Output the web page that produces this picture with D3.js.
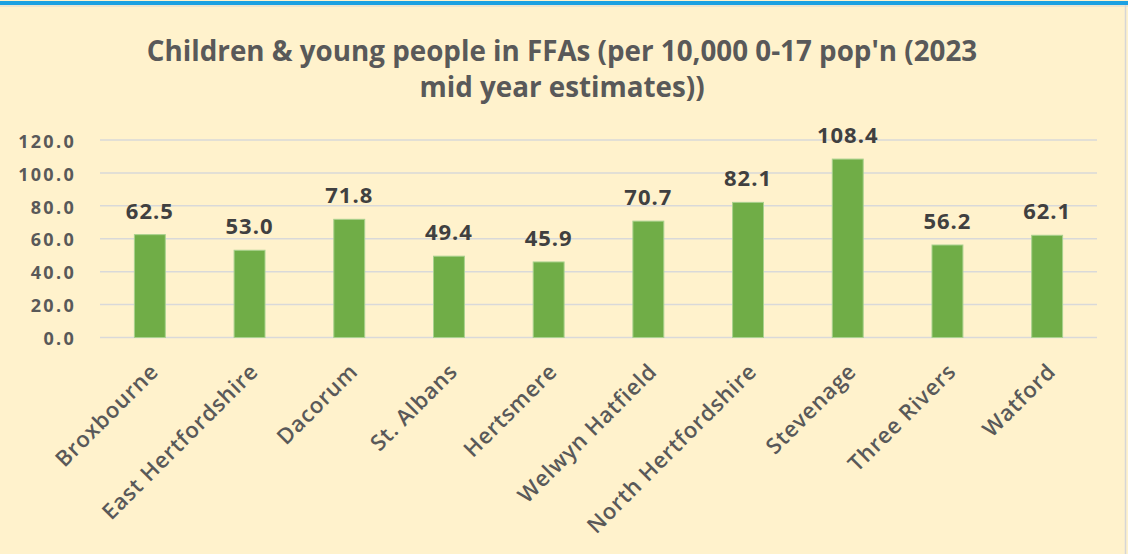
<!DOCTYPE html>
<html><head><meta charset="utf-8">
<script src="https://cdn.jsdelivr.net/npm/d3@7"></script>
<style>
html,body{margin:0;padding:0;background:#FFF2CC;}
svg{display:block;}
text{font-family:"Open Sans","Lato",sans-serif;}
</style></head>
<body>
<svg id="chart" width="1128" height="554"></svg>
<script>
const categories = ["Broxbourne","East Hertfordshire","Dacorum","St. Albans","Hertsmere","Welwyn Hatfield","North Hertfordshire","Stevenage","Three Rivers","Watford"];
const values = [62.5, 53.0, 71.8, 49.4, 45.9, 70.7, 82.1, 108.4, 56.2, 62.1];
const yTicks = [0, 20, 40, 60, 80, 100, 120];
const titleLines = ["Children & young people in FFAs (per 10,000 0-17 pop'n (2023", "mid year estimates))"];

const svg = d3.select("#chart");
const W = 1128, H = 554;
svg.append("rect").attr("width", W).attr("height", H).attr("fill", "#FFF2CC");
// frame lines
svg.append("rect").attr("x", 0).attr("y", 1).attr("width", W).attr("height", 4).attr("fill", "#1BA1E2");
svg.append("line").attr("x1", 0).attr("x2", W).attr("y1", 6).attr("y2", 6).attr("stroke", "#D6D6D6").attr("stroke-width", 1);
svg.append("line").attr("x1", 1125.5).attr("x2", 1125.5).attr("y1", 5).attr("y2", H).attr("stroke", "#D6D6D6").attr("stroke-width", 1.5);

const x = d3.scaleBand().domain(categories).range([100, 1097]).paddingInner(0.69).paddingOuter(0.345);
const y = d3.scaleLinear().domain([0, 120]).range([337.5, 140]);

// gridlines
svg.append("g").selectAll("line").data(yTicks).join("line")
  .attr("x1", 100).attr("x2", 1097)
  .attr("y1", d => y(d)).attr("y2", d => y(d))
  .attr("stroke", "#D9D9D9").attr("stroke-width", 1.5);

// y axis
const yAxis = svg.append("g").attr("transform", "translate(76,0)")
  .call(d3.axisLeft(y).tickValues(yTicks).tickFormat(d3.format(".1f")).tickSize(0).tickPadding(0));
yAxis.select(".domain").remove();
yAxis.selectAll("text").attr("fill", "#595959").style("font-size", "18px").style("font-weight", "700")
  .style("letter-spacing", "2.3px")
  .style("font-family", "'Open Sans', sans-serif").attr("dy", "0.4em");

// bars
svg.append("g").selectAll("rect").data(values).join("rect")
  .attr("x", (d, i) => x(categories[i]))
  .attr("width", x.bandwidth())
  .attr("y", d => y(d))
  .attr("height", d => y(0) - y(d))
  .attr("fill", "#70AD47").attr("stroke", "#A9D18E").attr("stroke-width", 1);

// data labels
svg.append("g").selectAll("text").data(values).join("text")
  .attr("x", (d, i) => x(categories[i]) + x.bandwidth() / 2)
  .attr("y", d => y(d) - 16)
  .attr("text-anchor", "middle")
  .attr("fill", "#404040").style("font-size", "22px").style("font-weight", "700")
  .style("letter-spacing", "1px")
  .style("font-family", "'Open Sans', sans-serif")
  .text(d => d3.format(".1f")(d));

// x labels
svg.append("g").selectAll("text").data(categories).join("text")
  .attr("transform", d => `translate(${x(d) + x.bandwidth() / 2 - 1},${362}) rotate(-45)`)
  .attr("text-anchor", "end")
  .attr("dy", "0.7em")
  .attr("fill", "#595959").style("font-size", "22px").style("font-weight", "600")
  .style("letter-spacing", "0.8px")
  .text(d => d);

// title
const title = svg.append("g");
const targetW = 831;
titleLines.forEach((t, i) => {
  title.append("text").attr("x", 562).attr("y", 61 + i * 36).attr("text-anchor", "middle")
    .attr("fill", "#595959").style("font-size", "24px").style("font-weight", "700").text(t);
});
const w0 = title.select("text").node().getComputedTextLength();
const fs = 24 * targetW / w0;
title.selectAll("text").style("font-size", fs + "px");
</script>
</body></html>
